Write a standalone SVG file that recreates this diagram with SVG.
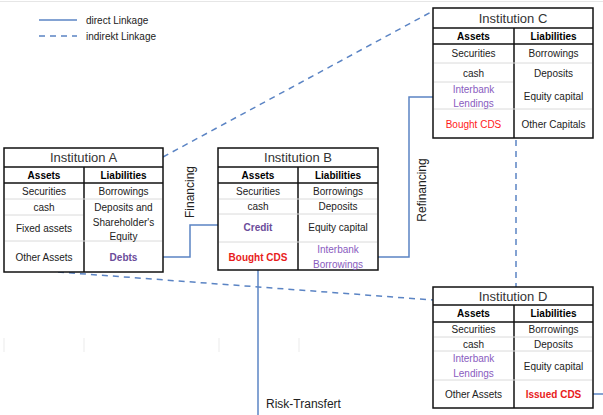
<svg xmlns="http://www.w3.org/2000/svg" width="603" height="415" viewBox="0 0 603 415">
<style>
text{font-family:"Liberation Sans",Arial,sans-serif;font-size:10px;fill:#222;text-anchor:middle}
.t{font-size:13px;fill:#333}
.h{font-weight:bold;fill:#000}
.p{fill:#8A5CC0}
.pd{fill:#6B4C9A;font-weight:bold}
.r{fill:#FF1A1A}
.rb{fill:#E81C1C;font-weight:bold}
.lbl{font-size:12px;fill:#222}
.box{fill:#fff;stroke:#111;stroke-width:1.5}
.sep{stroke:#DADADA;stroke-width:1}
.bl{stroke:#111;stroke-width:1.5}
.solid{fill:none;stroke:#5B84C4;stroke-width:1.5}
.dash{fill:none;stroke:#5B84C4;stroke-width:1.5;stroke-dasharray:6,5}
.faint{stroke:#EBEBEB;stroke-width:1}
</style>
<line x1="0" y1="1.5" x2="603" y2="1.5" stroke="#E6E6E6" stroke-width="1"/>
<g id="faint-grid">
<line class="faint" x1="4" y1="338" x2="4" y2="352"/>
<line class="faint" x1="84" y1="338" x2="84" y2="352"/>
<line class="faint" x1="219" y1="338" x2="219" y2="352"/>
<line class="faint" x1="299" y1="338" x2="299" y2="352"/>
</g>
<g id="legend">
<line class="solid" x1="39" y1="20" x2="77" y2="20"/>
<text x="86" y="24" style="text-anchor:start;font-size:10px">direct Linkage</text>
<line class="dash" x1="39" y1="36" x2="77" y2="36"/>
<text x="86" y="40" style="text-anchor:start;font-size:10px">indirekt Linkage</text>
</g>
<g id="connectors">
<line class="dash" x1="163" y1="157" x2="433" y2="11"/>
<line class="dash" x1="58" y1="272" x2="433" y2="300"/>
<line class="dash" x1="516" y1="140" x2="516" y2="287"/>
<polyline class="solid" points="163,257 190,257 190,225 218,225"/>
<polyline class="solid" points="378,257 409,257 409,97 433,97"/>
<line class="solid" x1="258" y1="270" x2="258" y2="415"/>
<line class="solid" x1="593" y1="394" x2="603" y2="394"/>
<text class="lbl" transform="translate(194,192) rotate(-90)">Financing</text>
<text class="lbl" transform="translate(426,190) rotate(-90)">Refinancing</text>
<text class="lbl" x="266" y="408" style="text-anchor:start">Risk-Transfert</text>
</g>
<g id="institution-a">
<rect class="box" x="4" y="148" width="159" height="124"/>
<line class="bl" x1="4" y1="167" x2="163" y2="167"/>
<line class="bl" x1="4" y1="183" x2="163" y2="183"/>
<line class="bl" x1="84" y1="167" x2="84" y2="272"/>
<line class="sep" x1="5" y1="199" x2="162" y2="199"/>
<line class="sep" x1="5" y1="215" x2="83" y2="215"/>
<line class="sep" x1="5" y1="241" x2="162" y2="241"/>
<text class="t" x="83.5" y="162">Institution A</text>
<text class="h" x="44" y="179">Assets</text>
<text class="h" x="123.5" y="179">Liabilities</text>
<text x="44" y="195">Securities</text>
<text x="123.5" y="195">Borrowings</text>
<text x="44" y="211">cash</text>
<text x="123.5" y="211">Deposits and</text>
<text x="44" y="232">Fixed assets</text>
<text x="123.5" y="226">Shareholder's</text>
<text x="123.5" y="240">Equity</text>
<text x="44" y="261">Other Assets</text>
<text class="pd" x="123.5" y="261">Debts</text>
</g>
<g id="institution-b">
<rect class="box" x="218" y="148" width="160" height="122"/>
<line class="bl" x1="218" y1="167" x2="378" y2="167"/>
<line class="bl" x1="218" y1="183" x2="378" y2="183"/>
<line class="bl" x1="298" y1="167" x2="298" y2="270"/>
<line class="sep" x1="219" y1="199" x2="377" y2="199"/>
<line class="sep" x1="219" y1="214" x2="377" y2="214"/>
<line class="sep" x1="219" y1="242" x2="377" y2="242"/>
<text class="t" x="298" y="162">Institution B</text>
<text class="h" x="258" y="179">Assets</text>
<text class="h" x="338" y="179">Liabilities</text>
<text x="258" y="195">Securities</text>
<text x="338" y="195">Borrowings</text>
<text x="258" y="210">cash</text>
<text x="338" y="210">Deposits</text>
<text class="pd" x="258" y="231">Credit</text>
<text x="338" y="231">Equity capital</text>
<text class="rb" x="258" y="261">Bought CDS</text>
<text class="p" x="338" y="253">Interbank</text>
<text class="p" x="338" y="268">Borrowings</text>
</g>
<g id="institution-c">
<rect class="box" x="433" y="8" width="160" height="130"/>
<line class="bl" x1="433" y1="28" x2="593" y2="28"/>
<line class="bl" x1="433" y1="44" x2="593" y2="44"/>
<line class="bl" x1="514" y1="28" x2="514" y2="138"/>
<line class="sep" x1="434" y1="63" x2="592" y2="63"/>
<line class="sep" x1="434" y1="82" x2="513" y2="82"/>
<line class="sep" x1="434" y1="109" x2="592" y2="109"/>
<text class="t" x="513" y="23">Institution C</text>
<text class="h" x="473.5" y="40">Assets</text>
<text class="h" x="553.5" y="40">Liabilities</text>
<text x="473.5" y="57">Securities</text>
<text x="553.5" y="57">Borrowings</text>
<text x="473.5" y="77">cash</text>
<text x="553.5" y="77">Deposits</text>
<text class="p" x="473.5" y="93">Interbank</text>
<text class="p" x="473.5" y="107">Lendings</text>
<text x="553.5" y="100">Equity capital</text>
<text class="r" x="473.5" y="128">Bought CDS</text>
<text x="553.5" y="128">Other Capitals</text>
</g>
<g id="institution-d">
<rect class="box" x="433" y="287" width="160" height="121"/>
<line class="bl" x1="433" y1="305" x2="593" y2="305"/>
<line class="bl" x1="433" y1="322" x2="593" y2="322"/>
<line class="bl" x1="514" y1="305" x2="514" y2="408"/>
<line class="sep" x1="434" y1="337" x2="592" y2="337"/>
<line class="sep" x1="434" y1="351" x2="592" y2="351"/>
<line class="sep" x1="434" y1="380" x2="592" y2="380"/>
<text class="t" x="513" y="301">Institution D</text>
<text class="h" x="473.5" y="317">Assets</text>
<text class="h" x="553.5" y="317">Liabilities</text>
<text x="473.5" y="333">Securities</text>
<text x="553.5" y="333">Borrowings</text>
<text x="473.5" y="348">cash</text>
<text x="553.5" y="348">Deposits</text>
<text class="p" x="473.5" y="362">Interbank</text>
<text class="p" x="473.5" y="377">Lendings</text>
<text x="553.5" y="370">Equity capital</text>
<text x="473.5" y="398">Other Assets</text>
<text class="rb" x="553.5" y="398">Issued CDS</text>
</g>
</svg>
